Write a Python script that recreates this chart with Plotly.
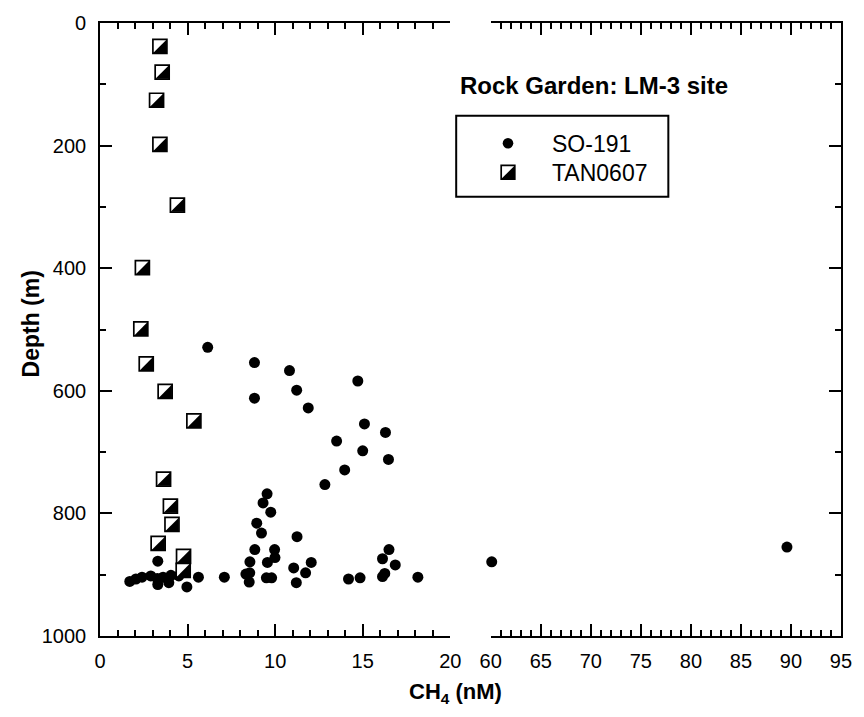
import plotly.graph_objects as go

# ---------------- data ----------------
so191_ch4 = [6.15, 8.82, 10.82, 14.72, 11.23, 8.82, 11.89, 15.1, 16.3, 13.51, 15.0, 16.47,
             13.97, 12.84, 9.54, 9.31, 9.75, 8.95, 9.22, 11.25, 8.84, 9.97, 9.99, 8.56,
             9.56, 8.33, 8.55, 8.52, 9.50, 9.80, 11.06, 11.21, 11.74, 12.06, 14.19, 14.85,
             16.5, 16.13, 16.86, 16.13, 16.26, 18.15, 7.1,
             1.7, 2.05, 2.4, 2.9, 3.27, 3.3, 3.6, 3.93, 4.05, 4.5, 3.3, 4.96, 5.62,
             60.1, 89.6]
so191_depth = [529, 554, 567, 584, 599, 612, 628, 654, 668, 682, 698, 712,
               729, 753, 768, 783, 798, 816, 832, 838, 859, 859, 872, 879,
               880, 899, 897, 912, 905, 905, 889, 913, 897, 880, 907, 905,
               859, 874, 884, 903, 898, 904, 904,
               911, 907, 904, 902, 906, 916, 904, 913, 901, 902, 878, 920, 904,
               879, 855]

tan_ch4 = [3.42, 3.55, 3.23, 3.42, 4.42, 2.42, 2.33, 2.64, 3.72, 5.36, 3.63, 4.02,
           4.11, 3.32, 4.77, 4.75]
tan_depth = [38, 80, 126, 198, 297, 399, 499, 556, 601, 649, 744, 788,
             818, 849, 870, 893]

left_range = [0, 20]
right_range = [60, 95]
depth_range = [1000, 0]
title_text = "Rock Garden: LM-3 site"
series_names = ["SO-191", "TAN0607"]

# ---------------- layout geometry ----------------
W, H = 864, 717
ML, MR, MT, MB = 100, 13, 22, 81
PW, PH = W - ML - MR, H - MT - MB
FONT = "Liberation Sans, Arial, Helvetica, sans-serif"


def px_x(p):
    return (p - ML) / PW


def px_y(p):
    return (H - MB - p) / PH


left_dom = [0, px_x(455)]
right_dom = [px_x(496), 1]

fig = go.Figure()

# split SO-191 into the two panels
lx = [x for x in so191_ch4 if x <= left_range[1]]
ly = [d for x, d in zip(so191_ch4, so191_depth) if x <= left_range[1]]
rx = [x for x in so191_ch4 if x > left_range[1]]
ry = [d for x, d in zip(so191_ch4, so191_depth) if x > left_range[1]]

dot_marker = dict(symbol="circle", size=11, color="black", line=dict(width=0))
fig.add_trace(go.Scatter(x=lx, y=ly, mode="markers", marker=dot_marker, cliponaxis=False,
                         name=series_names[0], showlegend=False, xaxis="x", yaxis="y"))
fig.add_trace(go.Scatter(x=rx, y=ry, mode="markers", marker=dot_marker, cliponaxis=False,
                         name=series_names[0], showlegend=False, xaxis="x2", yaxis="y2"))
fig.add_trace(go.Scatter(x=tan_ch4, y=tan_depth, mode="markers", cliponaxis=False,
                         marker=dict(symbol="square", size=14, color="white",
                                     line=dict(color="black", width=1.7)),
                         name=series_names[1], showlegend=False, xaxis="x", yaxis="y"))

HS = 6.8
tri_path = f"M{-HS},{-HS} L{HS},{-HS} L{HS},{HS} Z"
shapes = []
for xv, yv in zip(tan_ch4, tan_depth):
    shapes.append(dict(type="path", xref="x", yref="y", xsizemode="pixel", ysizemode="pixel",
                       xanchor=xv, yanchor=yv, path=tri_path,
                       fillcolor="black", line=dict(width=0), layer="above"))

# legend box (manual)
shapes.append(dict(type="rect", xref="paper", yref="paper",
                   x0=px_x(461), x1=px_x(676), y0=px_y(196), y1=px_y(115),
                   line=dict(color="black", width=2), fillcolor="rgba(0,0,0,0)"))
# legend symbols
lsx = px_x(513.5)
shapes.append(dict(type="circle", xref="paper", yref="paper", xsizemode="pixel", ysizemode="pixel",
                   xanchor=lsx, yanchor=px_y(142.5), x0=-5.3, x1=5.3, y0=-5.3, y1=5.3,
                   fillcolor="black", line=dict(width=0)))
shapes.append(dict(type="rect", xref="paper", yref="paper", xsizemode="pixel", ysizemode="pixel",
                   xanchor=lsx, yanchor=px_y(171.5), x0=-6.8, x1=6.8, y0=-6.8, y1=6.8,
                   fillcolor="white", line=dict(color="black", width=1.7)))
shapes.append(dict(type="path", xref="paper", yref="paper", xsizemode="pixel", ysizemode="pixel",
                   xanchor=lsx, yanchor=px_y(171.5), path=tri_path,
                   fillcolor="black", line=dict(width=0)))

annotations = [
    dict(text=f"<b>{title_text}</b>", xref="paper", yref="paper", x=px_x(463), y=px_y(85),
         xanchor="left", yanchor="middle", showarrow=False, font=dict(size=24, color="black")),
    dict(text=series_names[0], xref="paper", yref="paper", x=px_x(556), y=px_y(143),
         xanchor="left", yanchor="middle", showarrow=False, font=dict(size=23, color="black")),
    dict(text=series_names[1], xref="paper", yref="paper", x=px_x(556), y=px_y(172),
         xanchor="left", yanchor="middle", showarrow=False, font=dict(size=23, color="black")),
    dict(text="<b>Depth (m)</b>", xref="paper", yref="paper", x=px_x(30), y=px_y(323),
         xanchor="center", yanchor="middle", textangle=-90, showarrow=False,
         font=dict(size=23, color="black")),
    dict(text="<b>CH<sub>4</sub> (nM)</b>", xref="paper", yref="paper", x=px_x(460), y=px_y(693),
         xanchor="center", yanchor="middle", showarrow=False, font=dict(size=22, color="black")),
]

axis_common = dict(showline=True, linecolor="black", linewidth=1.6, showgrid=False,
                   zeroline=False, ticks="inside", ticklen=12, tickwidth=1.6,
                   tickcolor="black", tickfont=dict(size=20, color="black", family=FONT))
minor_x = dict(dtick=1, ticks="inside", ticklen=6, tickwidth=1.6, tickcolor="black", showgrid=False)
minor_y = dict(dtick=100, ticks="inside", ticklen=6, tickwidth=1.6, tickcolor="black", showgrid=False)

fig.update_layout(
    width=W, height=H,
    margin=dict(l=ML, r=MR, t=MT, b=MB, pad=0),
    paper_bgcolor="white", plot_bgcolor="white",
    font=dict(family=FONT, color="black"),
    showlegend=False,
    xaxis=dict(domain=left_dom, range=left_range, anchor="y", tick0=0, dtick=5,
               mirror="ticks", minor=minor_x, ticklabelstandoff=6, **axis_common),
    xaxis2=dict(domain=right_dom, range=right_range, anchor="y2", tick0=60, dtick=5,
                mirror="ticks", minor=minor_x, ticklabelstandoff=6, **axis_common),
    yaxis=dict(domain=[0, 1], range=depth_range, anchor="x", tick0=0, dtick=200,
               minor=minor_y, ticklabelstandoff=8, **axis_common),
    yaxis2=dict(domain=[0, 1], range=depth_range, anchor="x2", side="right", tick0=0, dtick=200,
                minor=minor_y, showticklabels=False, **axis_common),
    shapes=shapes,
    annotations=annotations,
)

fig.write_html("out.html")
